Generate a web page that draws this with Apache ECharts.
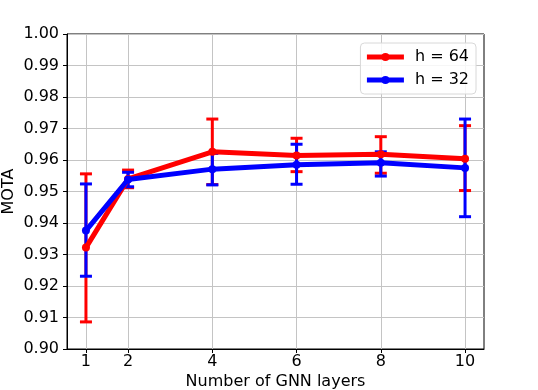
<!DOCTYPE html>
<html>
<head>
<meta charset="utf-8">
<script src="https://cdn.jsdelivr.net/npm/echarts@6/dist/echarts.min.js"></script>
<style>
  html, body { margin: 0; padding: 0; background: #fff; }
  #chart { width: 538px; height: 390px; }
</style>
</head>
<body>
<div id="chart"></div>
<script>
// number of GNN layers
const layers = [1, 2, 4, 6, 8, 10];

// h = 64
const mean64 = [0.9322, 0.9540, 0.9626, 0.9614, 0.9618, 0.9604];
const low64 = [0.9086, 0.9512, 0.9522, 0.9563, 0.9558, 0.9503];
const high64 = [0.9556, 0.9568, 0.9730, 0.9669, 0.9674, 0.9709];

// h = 32
const mean32 = [0.9376, 0.9538, 0.9571, 0.9585, 0.9591, 0.9575];
const low32 = [0.9231, 0.9515, 0.9521, 0.9523, 0.9549, 0.9420];
const high32 = [0.9524, 0.9561, 0.9621, 0.9650, 0.9626, 0.9730];

const font = "DejaVu Sans";
const RED = "#ff0000";
const BLUE = "#0000ff";

function errorBars(name, color, low, high, z) {
  return {
    name: name + " err",
    type: "custom",
    z: z,
    silent: true,
    data: layers.map((x, i) => [x, low[i], high[i]]),
    renderItem(params, api) {
      const top = api.coord([api.value(0), api.value(2)]);
      const bot = api.coord([api.value(0), api.value(1)]);
      const cap = 6, w = 3;
      return {
        type: "group",
        children: [
          { type: "rect", shape: { x: top[0] - w / 2, y: top[1], width: w, height: bot[1] - top[1] }, style: { fill: color } },
          { type: "rect", shape: { x: top[0] - cap, y: top[1] - w / 2, width: cap * 2, height: w }, style: { fill: color } },
          { type: "rect", shape: { x: bot[0] - cap, y: bot[1] - w / 2, width: cap * 2, height: w }, style: { fill: color } }
        ]
      };
    }
  };
}

function meanLine(name, color, mean, z) {
  return {
    name: name,
    type: "line",
    z: z,
    data: layers.map((x, i) => [x, mean[i]]),
    symbol: "circle",
    symbolSize: 8,
    itemStyle: { color: color },
    lineStyle: { color: color, width: 5 }
  };
}

const chart = echarts.init(document.getElementById("chart"));
chart.setOption({
  animation: false,
  textStyle: { fontFamily: font },
  grid: {
    left: 67, right: 54, top: 34, bottom: 41,
    outerBoundsMode: "none",
    containLabel: false,
    show: true, borderColor: "#000", borderWidth: 1
  },
  legend: {
    orient: "vertical",
    right: 62,
    top: 43,
    data: ["h = 64", "h = 32"],
    itemWidth: 37,
    itemHeight: 10,
    itemGap: 7,
    padding: [6, 7, 6, 4],
    backgroundColor: "rgba(255,255,255,0.85)",
    borderColor: "#d8d8d8",
    borderWidth: 1,
    borderRadius: 4,
    lineStyle: { width: 5 },
    textStyle: { fontFamily: font, fontSize: 16, color: "#000", padding: [0, 0, 0, 6] }
  },
  xAxis: {
    type: "value",
    min: 0.55,
    max: 10.45,
    name: "Number of GNN layers",
    nameLocation: "middle",
    nameGap: 25,
    nameMoveOverlap: false,
    nameTextStyle: { fontFamily: font, fontSize: 16, color: "#000" },
    axisLine: { lineStyle: { color: "#000", width: 1 } },
    axisTick: { show: true, customValues: layers, length: 4, lineStyle: { color: "#000" } },
    axisLabel: { customValues: layers, fontFamily: font, fontSize: 16, color: "#000", margin: 5 },
    splitLine: { show: false }
  },
  yAxis: {
    type: "value",
    min: 0.90,
    max: 1.00,
    interval: 0.01,
    name: "MOTA",
    nameLocation: "middle",
    nameGap: 50,
    nameMoveOverlap: false,
    nameTextStyle: { fontFamily: font, fontSize: 16, color: "#000" },
    axisLine: { show: true, lineStyle: { color: "#000", width: 1 } },
    axisTick: { show: true, length: 4, lineStyle: { color: "#000" } },
    axisLabel: {
      fontFamily: font, fontSize: 16, color: "#000", margin: 8,
      formatter: v => v.toFixed(2)
    },
    splitLine: { show: true, lineStyle: { color: "#c4c4c4", width: 1 } }
  },
  series: [
    {
      name: "grid",
      type: "line",
      z: 1,
      silent: true,
      data: [],
      markLine: {
        z: 1,
        silent: true,
        symbol: "none",
        label: { show: false },
        lineStyle: { color: "#c4c4c4", width: 1, type: "solid" },
        data: layers.map(v => ({ xAxis: v }))
      }
    },
    errorBars("h = 64", RED, low64, high64, 2),
    errorBars("h = 32", BLUE, low32, high32, 3),
    meanLine("h = 64", RED, mean64, 4),
    meanLine("h = 32", BLUE, mean32, 5)
  ]
});
</script>
</body>
</html>
